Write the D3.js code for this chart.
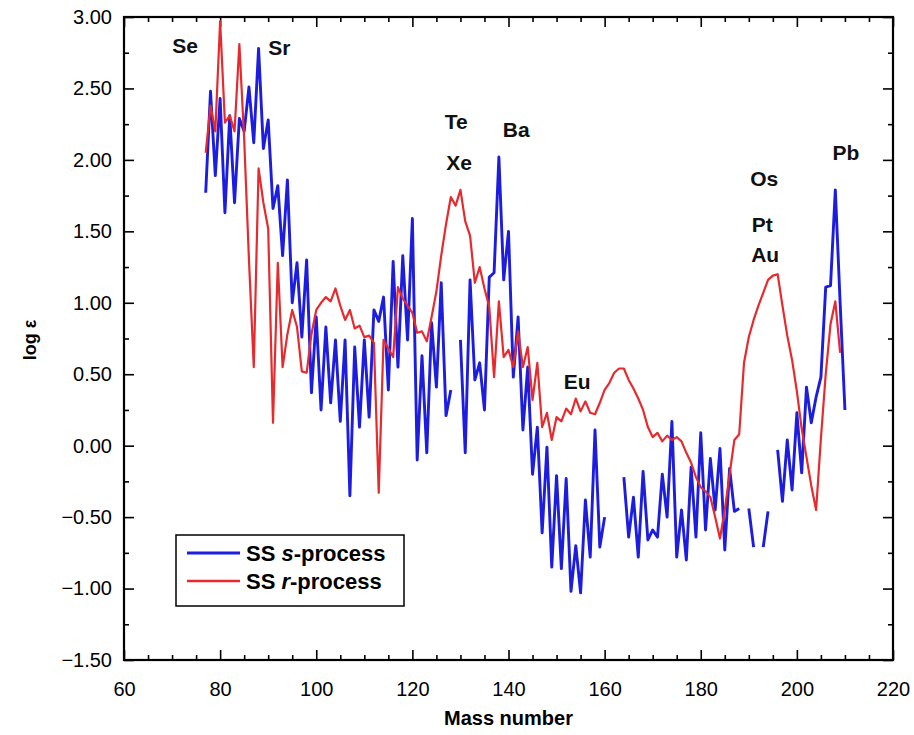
<!DOCTYPE html>
<html><head><meta charset="utf-8">
<script src="https://cdn.jsdelivr.net/npm/d3@7"></script>
<style>
body{margin:0;background:#fff;}
text{font-family:"Liberation Sans Narrow","Arial Narrow","Liberation Sans",sans-serif;}
</style></head>
<body><svg id="chart" width="914" height="735"></svg>
<script>
// ---- data ----
const sMass = d3.range(77, 211);
const sValues = [1.77,2.48,1.89,2.43,1.63,2.31,1.70,2.29,2.20,2.51,2.12,2.78,2.08,2.28,1.66,1.82,1.33,1.86,1.00,1.28,
0.76,1.30,0.37,0.90,0.25,0.83,0.30,0.74,0.17,0.74,-0.35,0.69,0.13,0.74,0.20,0.95,0.87,1.04,0.39,1.29,
0.55,1.33,0.74,1.59,-0.10,0.63,-0.05,0.86,0.41,1.14,0.21,0.39,null,0.74,-0.05,1.16,0.46,0.58,0.25,1.18,
1.21,2.02,1.16,1.50,0.48,0.90,0.11,0.55,-0.20,0.13,-0.61,-0.01,-0.85,-0.21,-0.86,-0.23,-1.02,-0.70,-1.03,-0.38,
-0.78,0.11,-0.71,-0.50,null,null,null,-0.22,-0.64,-0.36,-0.78,-0.18,-0.66,-0.59,-0.64,-0.20,-0.50,0.17,-0.78,-0.45,
-0.80,-0.15,-0.64,0.09,-0.59,-0.09,-0.45,-0.02,-0.73,-0.16,-0.46,-0.44,null,-0.44,-0.71,null,-0.71,-0.46,null,-0.03,
-0.39,0.04,-0.31,0.23,-0.19,0.41,0.16,0.34,0.48,1.11,1.12,1.79,1.00,0.25];
const rMass = d3.range(77, 210);
const rValues = [2.05,2.38,2.20,2.97,2.26,2.31,2.20,2.81,2.15,1.30,0.55,1.94,1.70,1.52,0.16,1.28,0.55,0.78,0.95,0.83,
0.52,0.51,0.78,0.95,1.00,1.04,1.01,1.10,0.98,0.88,0.95,0.82,0.84,0.76,0.77,0.72,-0.33,0.74,0.68,0.62,
1.11,1.03,0.98,0.93,0.79,0.80,0.73,0.90,1.08,1.33,1.55,1.74,1.68,1.79,1.57,1.47,1.14,1.25,1.10,0.97,
0.48,1.01,0.62,0.67,0.55,0.80,0.55,0.69,0.32,0.58,0.13,0.23,0.04,0.20,0.17,0.26,0.22,0.33,0.24,0.31,
0.23,0.22,0.30,0.39,0.44,0.51,0.54,0.54,0.46,0.40,0.33,0.25,0.13,0.06,0.09,0.03,0.07,0.04,0.06,0.03,
-0.05,-0.12,-0.22,-0.29,-0.32,-0.36,-0.50,-0.65,-0.45,-0.20,0.04,0.08,0.58,0.76,0.88,0.98,1.07,1.16,1.19,1.20,
0.98,0.77,0.60,0.38,0.12,-0.08,-0.28,-0.45,0.05,0.50,0.85,1.01,0.65];
const elementLabels = ["Se","Sr","Te","Xe","Ba","Eu","Os","Pt","Au","Pb"];
const labelMass = [72.7,92.3,129.1,129.7,141.6,154.3,193.2,192.8,193.4,210.2];
const labelLogE = [2.80,2.79,2.27,1.98,2.21,0.45,1.87,1.55,1.34,2.05];
const xMajorTicks = d3.range(60, 221, 20);
const xMinorTicks = d3.range(60, 221, 5);
const yMajorTicks = d3.range(-1.5, 3.01, 0.5);
const yMinorTicks = d3.range(-1.5, 3.01, 0.25);
const seriesNames = ["s","r"];

// ---- chart ----
const svg = d3.select("#chart");
const L = 124, R = 893, T = 17, B = 660;
const x = d3.scaleLinear().domain([60, 220]).range([L, R]);
const y = d3.scaleLinear().domain([-1.5, 3]).range([B, T]);
const blue = "#1d1de0", red = "#e62a2e";
const narrow = '"Liberation Sans Narrow","Arial Narrow","Liberation Sans",sans-serif';
const bold = '"Liberation Sans","Arial",sans-serif';

function axisGroup(axisFn, scale, ticks, size, tx, ty, labels) {
  const a = axisFn(scale).tickValues(ticks).tickSize(size).tickSizeOuter(0);
  if (labels) a.tickFormat(labels); else a.tickFormat("");
  const g = svg.append("g").attr("transform", `translate(${tx},${ty})`).call(a);
  g.select(".domain").remove();
  g.selectAll("line").attr("stroke", "#000").attr("stroke-width", 1.6);
  return g;
}
// inward ticks on all four sides
const gxb = axisGroup(d3.axisBottom, x, xMajorTicks, -10, 0, B, d3.format("d"));
axisGroup(d3.axisBottom, x, xMinorTicks.filter(v => v % 20 !== 0), -5, 0, B);
axisGroup(d3.axisTop, x, xMajorTicks, -10, 0, T);
axisGroup(d3.axisTop, x, xMinorTicks.filter(v => v % 20 !== 0), -5, 0, T);
const gyl = axisGroup(d3.axisLeft, y, yMajorTicks, -10, L, 0, d3.format(".2f"));
axisGroup(d3.axisLeft, y, yMinorTicks.filter((v, i) => i % 2 === 1), -5, L, 0);
axisGroup(d3.axisRight, y, yMajorTicks, -10, R, 0);
axisGroup(d3.axisRight, y, yMinorTicks.filter((v, i) => i % 2 === 1), -5, R, 0);

gxb.selectAll("text").attr("y", 22).attr("dy", "0.71em").attr("font-size", 20).attr("fill", "#000")
  .style("font-family", narrow);
gyl.selectAll("text").attr("x", -12).attr("font-size", 20).attr("fill", "#000")
  .style("font-family", narrow);

// frame
svg.append("rect").attr("x", L).attr("y", T).attr("width", R - L).attr("height", B - T)
  .attr("fill", "none").attr("stroke", "#000").attr("stroke-width", 2.2);

// lines
const sData = sMass.map((m, i) => ({m, v: sValues[i]}));
const rData = rMass.map((m, i) => ({m, v: rValues[i]}));
const line = d3.line().defined(d => d.v !== null).x(d => x(d.m)).y(d => y(d.v));
svg.append("path").datum(sData).attr("d", line).attr("fill", "none")
  .attr("stroke", blue).attr("stroke-width", 2.9).attr("stroke-linejoin", "round");
svg.append("path").datum(rData).attr("d", line).attr("fill", "none")
  .attr("stroke", red).attr("stroke-width", 2.2).attr("stroke-linejoin", "round");

// element labels
svg.append("g").selectAll("text").data(elementLabels).join("text")
  .attr("x", (d, i) => x(labelMass[i])).attr("y", (d, i) => y(labelLogE[i]))
  .attr("text-anchor", "middle").attr("dominant-baseline", "central")
  .attr("font-size", 21).attr("font-weight", "bold").attr("fill", "#111")
  .style("font-family", bold)
  .text(d => d);

// axis titles
svg.append("text").attr("x", (L + R) / 2).attr("y", 718).attr("text-anchor", "middle")
  .attr("dominant-baseline", "central").attr("font-size", 20).attr("font-weight", "bold")
  .style("font-family", bold).text("Mass number");
svg.append("text").attr("transform", "translate(30,340) rotate(-90)").attr("text-anchor", "middle")
  .attr("dominant-baseline", "central").attr("font-size", 18).attr("font-weight", "bold")
  .style("font-family", bold).text("log ε");

// legend
const lg = svg.append("g");
lg.append("rect").attr("x", 176).attr("y", 535).attr("width", 228).attr("height", 71)
  .attr("fill", "#fff").attr("stroke", "#000").attr("stroke-width", 1.5);
const legendColors = [blue, red];
seriesNames.forEach((s, i) => {
  const yy = 553 + i * 28;
  lg.append("line").attr("x1", 187).attr("x2", 240).attr("y1", yy).attr("y2", yy)
    .attr("stroke", legendColors[i]).attr("stroke-width", i === 0 ? 2.9 : 2.4);
  const t = lg.append("text").attr("x", 246).attr("y", yy).attr("dominant-baseline", "central")
    .attr("font-size", 22).attr("font-weight", "bold").style("font-family", bold);
  t.append("tspan").text("SS ");
  t.append("tspan").attr("font-style", "italic").text(s);
  t.append("tspan").text("-process");
});
</script></body></html>
